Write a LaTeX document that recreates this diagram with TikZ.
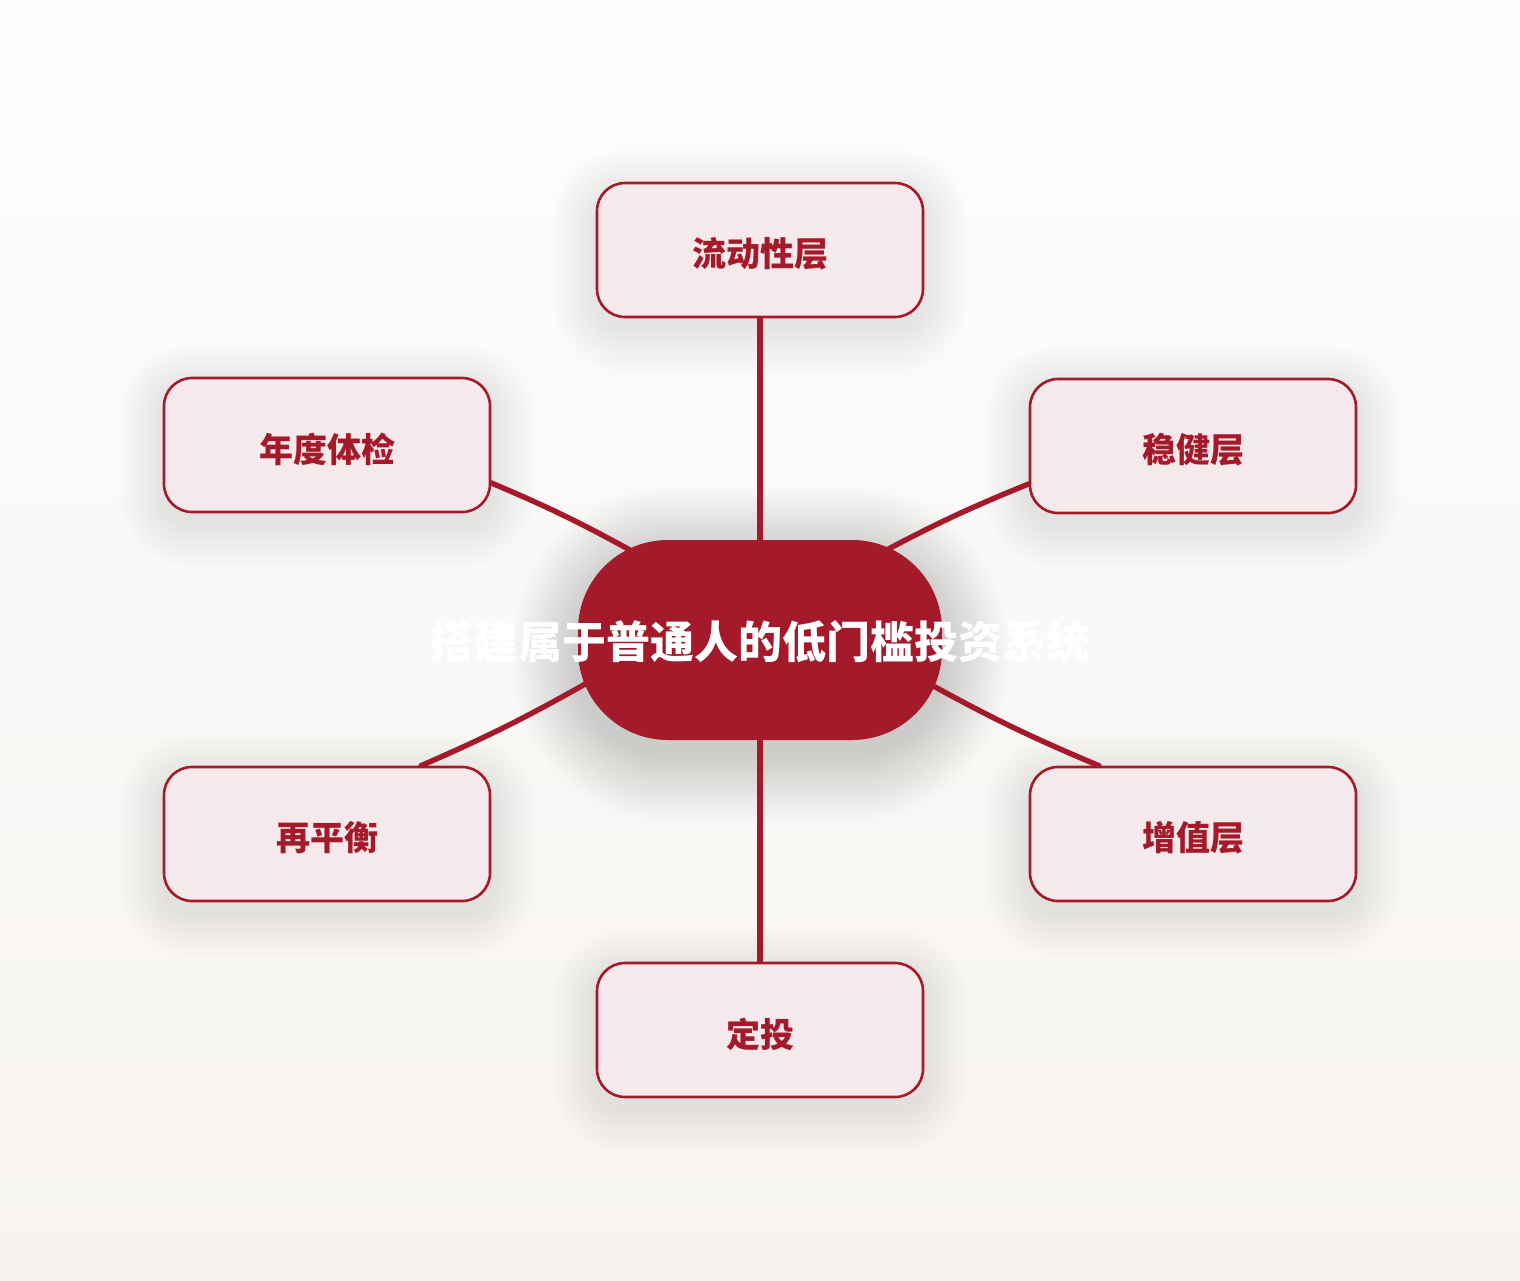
\documentclass[tikz,border=0pt]{standalone}
\usepackage{fontspec}
\setmainfont{Noto Sans CJK SC}
\usetikzlibrary{calc}
\definecolor{crimson}{HTML}{A51A2A}
\definecolor{pinkfill}{HTML}{F5E9EC}
\definecolor{bgtop}{HTML}{FDFDFD}
\definecolor{bgbot}{HTML}{F7F4F0}
\pgfdeclarelayer{bg}
\pgfdeclarelayer{shadowlayer}
\pgfdeclarelayer{edges}
\pgfsetlayers{bg,shadowlayer,edges,main}
\newcommand{\lowered}[1]{\raisebox{-4pt}[\height][\depth]{#1}}
\begin{document}
\begin{tikzpicture}[x=1pt,y=-1pt,
  leaf/.style={draw=crimson, line width=2.6pt, fill=pinkfill, rounded corners=28pt,
    minimum width=326pt, minimum height=134pt, inner sep=0pt, text=crimson,
    font=\bfseries\fontsize{34}{34}\selectfont},
  hub/.style={fill=crimson, rounded corners=90pt, minimum width=364pt,
    minimum height=200pt, inner sep=0pt, text=white,
    font=\bfseries\fontsize{44}{44}\selectfont},
  link/.style={draw=crimson, line width=5.4pt, line cap=round}
]
\useasboundingbox (0,0) rectangle (1520,1280);
\begin{pgfonlayer}{bg}
  \fill[top color=bgtop, bottom color=bgbot] (0,0) rectangle (1520,1280);
\end{pgfonlayer}

\node[hub] (c) at (760,640) {\makebox[0pt]{\raisebox{-2pt}[\height][\depth]{搭建属于普通人的低门槛投资系统}}};
\node[leaf] (tp) at (760,250) {\lowered{流动性层}};
\node[leaf] (ul) at (327,445) {\lowered{年度体检}};
\node[leaf] (ur) at (1193,446) {\lowered{稳健层}};
\node[leaf] (ll) at (327,834) {\lowered{再平衡}};
\node[leaf] (lr) at (1193,834) {\lowered{增值层}};
\node[leaf] (bt) at (760,1030) {\lowered{定投}};

\begin{pgfonlayer}{shadowlayer}
  \foreach \n in {tp,ul,ur,ll,lr,bt}{
    \foreach \i in {1,...,22}{
      \fill[black, opacity=0.0055, rounded corners={(28+\i*2)*1pt}]
        ($(\n.south west)+(-\i*2,\i*2+11)$) rectangle ($(\n.north east)+(\i*2,-\i*2+11)$);
    }
  }
  \foreach \i in {1,...,22}{
    \fill[black, opacity=0.0085, rounded corners={(90+\i*3)*1pt}]
      ($(c.south west)+(-\i*3,\i*3+14)$) rectangle ($(c.north east)+(\i*3,-\i*3+14)$);
  }
\end{pgfonlayer}

\begin{pgfonlayer}{edges}
  \draw[link] (tp.south) -- (c.north);
  \draw[link] (c.south) -- (bt.north);
  \draw[link] (ul.-13.5) to[bend left=3] ($(c.center)+(-121,-85)$);
  \draw[link] (ur.193.8) to[bend right=3] ($(c.center)+(119,-86)$);
  \draw[link] (ll.36.4) to[bend right=3] ($(c.center)+(-166,39)$);
  \draw[link] (lr.144.2) to[bend left=3] ($(c.center)+(166,42)$);
\end{pgfonlayer}
\end{tikzpicture}
\end{document}
